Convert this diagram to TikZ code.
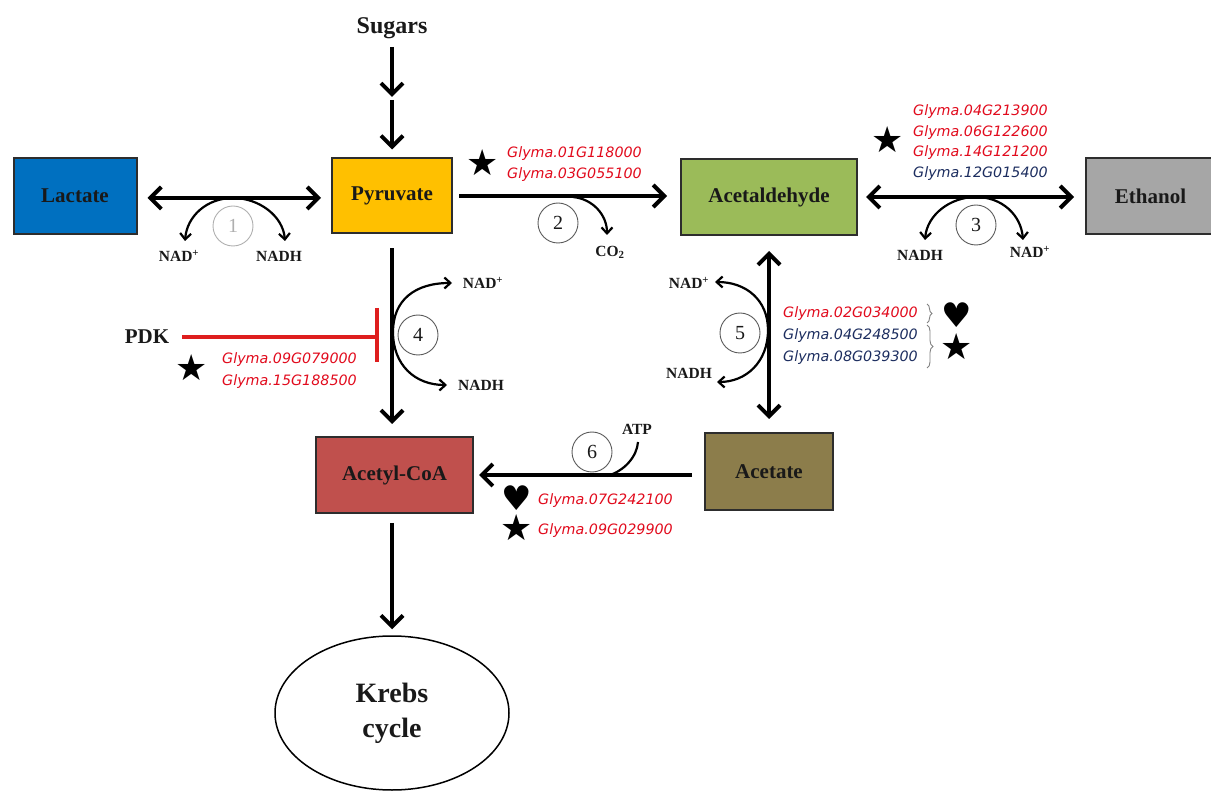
\documentclass[tikz,border=0pt]{standalone}
\usepackage{fontspec}
\setmainfont{Liberation Serif}
\newfontfamily\gene{DejaVu Sans}
\newfontfamily\symf{DejaVu Sans}
\usetikzlibrary{arrows.meta,decorations.pathreplacing,shapes.geometric}
\definecolor{lacc}{RGB}{0,112,192}
\definecolor{pyrc}{RGB}{255,192,0}
\definecolor{acec}{RGB}{155,187,89}
\definecolor{ethc}{RGB}{166,166,166}
\definecolor{acoac}{RGB}{192,80,77}
\definecolor{acetc}{RGB}{140,125,75}
\definecolor{boxd}{RGB}{45,45,45}
\definecolor{txtd}{RGB}{25,25,25}
\definecolor{gred}{RGB}{225,10,28}
\definecolor{gnavy}{RGB}{28,45,95}
\definecolor{pdkred}{RGB}{222,30,30}
\definecolor{circd}{RGB}{90,90,90}
\definecolor{circl}{RGB}{175,175,175}
\begin{document}
\begin{tikzpicture}[x=1pt,y=-1pt,
  box/.style={draw=boxd, line width=2pt, font=\bfseries\fontsize{21}{24}\selectfont, text=txtd, inner sep=0pt},
  big/.style={line width=4pt, arrows={-Straight Barb[length=11pt,width=22pt]}},
  bigboth/.style={line width=4pt, arrows={Straight Barb[length=11pt,width=22pt]-Straight Barb[length=11pt,width=22pt]}},
  cofarr/.style={line width=2.2pt, arrows={-Straight Barb[length=6pt,width=11pt]}},
  cofline/.style={line width=2.2pt},
  numc/.style={circle, draw=circd, line width=0.9pt, minimum size=40pt, inner sep=0pt, font=\fontsize{20}{20}\selectfont, text=txtd},
  cof/.style={font=\bfseries\fontsize{15.5}{15.5}\selectfont, inner sep=0pt, text=txtd},
  gr/.style={font=\gene\itshape\fontsize{14.3}{14.3}\selectfont, text=gred, anchor=base west, inner sep=0pt},
  gb/.style={font=\gene\itshape\fontsize{14.3}{14.3}\selectfont, text=gnavy, anchor=base west, inner sep=0pt},
  starn/.style={font=\symf\fontsize{36}{36}\selectfont, inner sep=0pt},
  heartn/.style={font=\symf\fontsize{34}{34}\selectfont, inner sep=0pt},
  pdkline/.style={draw=pdkred, line width=3.5pt},
  bracel/.style={draw=gray, line width=0.9pt, decorate, decoration={brace, amplitude=6pt}}
]
\useasboundingbox (0,0) rectangle (1211,791);

% boxes
\node[box, fill=lacc, minimum width=123pt, minimum height=76pt] (lac) at (75,196) {Lactate};
\node[box, fill=pyrc, minimum width=120pt, minimum height=75pt] (pyr) at (392,196) {Pyruvate};
\node[box, fill=acec, minimum width=176pt, minimum height=76pt] (ace) at (769,197) {Acetaldehyde};
\node[box, fill=ethc, minimum width=129pt, minimum height=76pt] (eth) at (1150.5,196.5) {Ethanol};
\node[box, fill=acoac, minimum width=157pt, minimum height=76pt] (acoa) at (394.5,475) {Acetyl-CoA};
\node[box, fill=acetc, minimum width=128pt, minimum height=77pt] (acet) at (769,471.5) {Acetate};
\node[ellipse, draw=black, line width=1.5pt, minimum width=234pt, minimum height=154pt, align=center, inner sep=0pt,
  font=\bfseries\fontsize{28}{35}\selectfont, text=txtd] (krebs) at (392,713) {Krebs\\cycle};

\node[font=\bfseries\fontsize{24}{24}\selectfont, text=txtd, inner sep=0pt] (sug) at (392,28) {Sugars};
\node[font=\bfseries\fontsize{21}{21}\selectfont, text=txtd, inner sep=0pt] (pdk) at (147,337) {PDK};

% main arrows
\coordinate (mid) at (392,98.5);
\draw[big, shorten <=8pt, shorten >=1.5pt] (sug.south) -- (mid);
\draw[big, shorten <=1.5pt, shorten >=8pt] (mid) -- (pyr.north);
\draw[bigboth, shorten <=10pt, shorten >=10pt] ([yshift=-2pt]lac.east) -- ([yshift=-2pt]pyr.west);
\draw[big, shorten <=6pt, shorten >=13pt] (pyr.east) -- (pyr.east -| ace.west);
\draw[bigboth, shorten <=8pt, shorten >=11pt] (ace.east) -- (ace.east -| eth.west);
\draw[big, shorten <=14pt, shorten >=12pt] (pyr.south) -- (pyr.south |- acoa.north);
\draw[bigboth, shorten <=15pt, shorten >=13pt] (ace.south) -- (acet.north);
\draw[big, shorten <=12pt, shorten >=5pt] ([yshift=-3.5pt]acet.west) -- ([yshift=-3.5pt]acet.west -| acoa.east);
\draw[big, shorten <=9pt, shorten >=6pt] (acoa.south -| krebs.north) -- (krebs.north);

% PDK inhibition
\coordinate (bar) at (377,336);
\draw[pdkline, shorten <=13pt] (pdk.east) -- (pdk.east -| bar);
\draw[pdkline] (377,308) -- (377,362);

% reaction 1
\coordinate (r1) at (233,198);
\draw[cofarr] (r1) .. controls (207,198) and (187,216) .. (185,241);
\draw[cofarr] (r1) .. controls (259,198) and (283,216) .. (285,241);
\node[numc, draw=circl, text=circl] (c1) at (233,226) {1};
\node[cof] (n1a) at (179,256) {NAD\textsuperscript{+}};
\node[cof] (n1b) at (279,256) {NADH};

% reaction 2
\coordinate (r2) at (573,197);
\draw[cofarr] (r2) .. controls (593,199) and (607,215) .. (607,235);
\node[numc] (c2) at (558,223) {2};
\node[cof] (co2) at (610,252) {CO\textsubscript{2}};

% reaction 3
\coordinate (r3) at (976,197);
\draw[cofarr] (r3) .. controls (950,197) and (927,215) .. (925,240);
\draw[cofarr] (r3) .. controls (1002,197) and (1021,215) .. (1023,240);
\node[numc] (c3) at (976,225) {3};
\node[cof] (n3a) at (920,255) {NADH};
\node[cof] (n3b) at (1030,252) {NAD\textsuperscript{+}};

% reaction 4
\coordinate (r4) at (393,332);
\draw[cofarr] (r4) .. controls (393,300) and (415,283) .. (452,283);
\draw[cofarr] (r4) .. controls (393,365) and (415,385) .. (447,385);
\node[numc] (c4) at (418,335) {4};
\node[cof] (n4a) at (483,283) {NAD\textsuperscript{+}};
\node[cof] (n4b) at (481,385) {NADH};

% reaction 5
\coordinate (r5) at (768,330);
\draw[cofarr] (r5) .. controls (768,300) and (746,282) .. (715,282);
\draw[cofarr] (r5) .. controls (768,362) and (746,382) .. (717,382);
\node[numc] (c5) at (740,333) {5};
\node[cof] (n5a) at (689,283) {NAD\textsuperscript{+}};
\node[cof] (n5b) at (689,373) {NADH};

% reaction 6
\coordinate (r6) at (607,476);
\coordinate (atpend) at (638,442);
\draw[cofline] (r6) .. controls (625,471) and (637,456) .. (atpend);
\node[numc] (c6) at (592,452) {6};
\node[cof] (atp) at (637,429) {ATP};

% genes reaction 2
\node[starn] (s2) at (483,163) {★};
\node[gr] (g2a) at (507,158) {Glyma.01G118000};
\node[gr] (g2b) at (507,179) {Glyma.03G055100};

% genes reaction 3
\node[starn] (s3) at (888,140) {★};
\node[gr] (g3a) at (913,116) {Glyma.04G213900};
\node[gr] (g3b) at (913,137) {Glyma.06G122600};
\node[gr] (g3c) at (913,157) {Glyma.14G121200};
\node[gb] (g3d) at (913,178) {Glyma.12G015400};

% genes PDK
\node[starn] (s4) at (192,368) {★};
\node[gr] (g4a) at (222,364) {Glyma.09G079000};
\node[gr] (g4b) at (222,386) {Glyma.15G188500};

% genes reaction 5
\node[gr] (g5a) at (783,318) {Glyma.02G034000};
\node[gb] (g5b) at (783,340) {Glyma.04G248500};
\node[gb] (g5c) at (783,362) {Glyma.08G039300};
\draw[bracel, decoration={brace, amplitude=5pt}] (927,304) -- (927,323);
\draw[bracel] (927,325) -- (927,368);
\node[heartn] (h5) at (957,315) {♥};
\node[starn] (s5) at (957,347) {★};

% genes reaction 6
\node[heartn] (h6) at (517,498) {♥};
\node[starn] (s6) at (517,528) {★};
\node[gr] (g6a) at (538,504) {Glyma.07G242100};
\node[gr] (g6b) at (538,534) {Glyma.09G029900};
\end{tikzpicture}
\end{document}
